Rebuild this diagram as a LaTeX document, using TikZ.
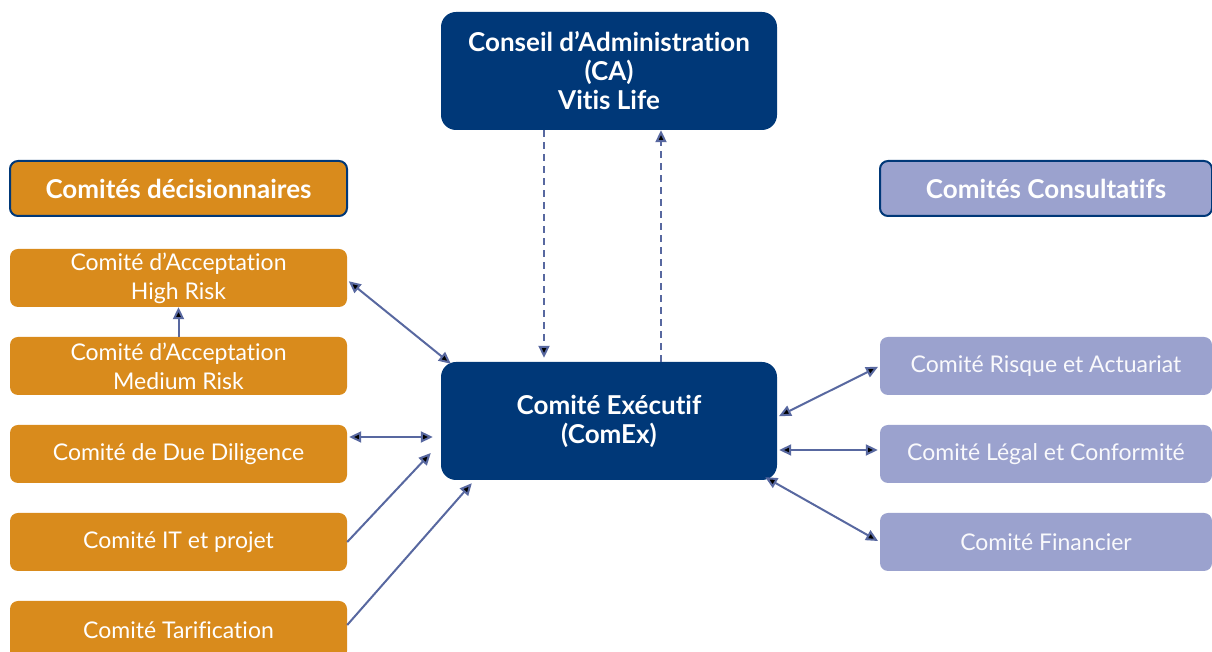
\documentclass[tikz,border=0pt]{standalone}
\usepackage{fontspec}
\setmainfont{Lato}[Ligatures=NoCommon]
\usetikzlibrary{arrows.meta,positioning}
\definecolor{navy}{RGB}{0,56,120}
\definecolor{ocre}{RGB}{217,139,28}
\definecolor{lilas}{RGB}{155,162,206}
\definecolor{fleche}{RGB}{88,104,160}
\tikzstyle{boss} = [rectangle, fill=navy, text=white, font=\fontsize{26}{29}\selectfont\bfseries,
    align=center, rounded corners=15pt, minimum width=336pt, minimum height=118pt, inner sep=0pt]
\tikzstyle{dec} = [rectangle, fill=ocre, text=white, font=\fontsize{23}{29}\selectfont,
    align=center, rounded corners=8pt, minimum width=337pt, minimum height=58pt, inner sep=0pt]
\tikzstyle{cons} = [dec, fill=lilas, text=white!94!lilas, minimum width=332pt]
\tikzstyle{hdr} = [draw=navy, line width=2pt, minimum height=55pt, text=white, font=\fontsize{26}{29}\selectfont\bfseries]
\tikzstyle{lien} = [draw=fleche, line width=2pt]
\tikzstyle{uni} = [-{Triangle[length=12pt,width=11pt]}]
\tikzstyle{bi} = [{Triangle[length=12pt,width=11pt]}-{Triangle[length=12pt,width=11pt]}]
\begin{document}
\begin{tikzpicture}[x=1pt,y=1pt,node distance=88pt]
  \useasboundingbox (0,0) rectangle (1212,652);

  \node[boss]      (ca)    at (609,581) {Conseil d’Administration\\(CA)\\Vitis Life};
  \node[boss]      (comex) at (609,231) {Comité Exécutif\\(ComEx)};

  \node[dec,hdr]   (decis)   at (178.5,463.5) {Comités décisionnaires};
  \node[cons,hdr]  (consult) at (1046,463.5)  {Comités Consultatifs};

  \node[dec]  (high)   at (178.5,374)       {Comité d’Acceptation\\High Risk};
  \node[dec]  (medium) [below of=high]   {Comité d’Acceptation\\Medium Risk};
  \node[dec]  (due)    [below of=medium] {Comité de Due Diligence};
  \node[dec]  (it)     [below of=due]    {Comité IT et projet};
  \node[dec]  (tarif)  [below of=it]     {Comité Tarification};

  \node[cons] (risque) at (1046,286)       {Comité Risque et Actuariat};
  \node[cons] (legal)  [below of=risque] {Comité Légal et Conformité};
  \node[cons] (fin)    [below of=legal]  {Comité Financier};

  \path[lien,dash pattern=on 7pt off 5pt]
        ([xshift=-65pt]ca.south) edge[uni,shorten >=4pt] ([xshift=-65pt]comex.north)
        ([xshift=52pt]comex.north) edge[uni] ([xshift=52pt]ca.south);

  \path[lien]
        ([yshift=-2pt]high.east) edge[bi,shorten <=2pt] ([xshift=10pt,yshift=-2pt]comex.north west)
        (medium.north) edge[uni] (high.south)
        ([yshift=17pt]due.east) edge[bi,shorten <=2pt,shorten >=8pt] ([yshift=17pt]due.east -| comex.west)
        (it.east) edge[uni] ([xshift=-10pt,yshift=-32pt]comex.west)
        ([yshift=5pt]tarif.east) edge[uni] ([xshift=31pt,yshift=-3pt]comex.south west)
        (risque.west) edge[bi,shorten <=2pt,shorten >=2pt] ([yshift=4pt]comex.east)
        ([yshift=4pt]legal.west) edge[bi,shorten <=2pt,shorten >=2pt] ([yshift=-29pt]comex.east)
        (fin.west) edge[bi,shorten <=2pt] ([xshift=-12pt,yshift=3pt]comex.south east);
\end{tikzpicture}
\end{document}
